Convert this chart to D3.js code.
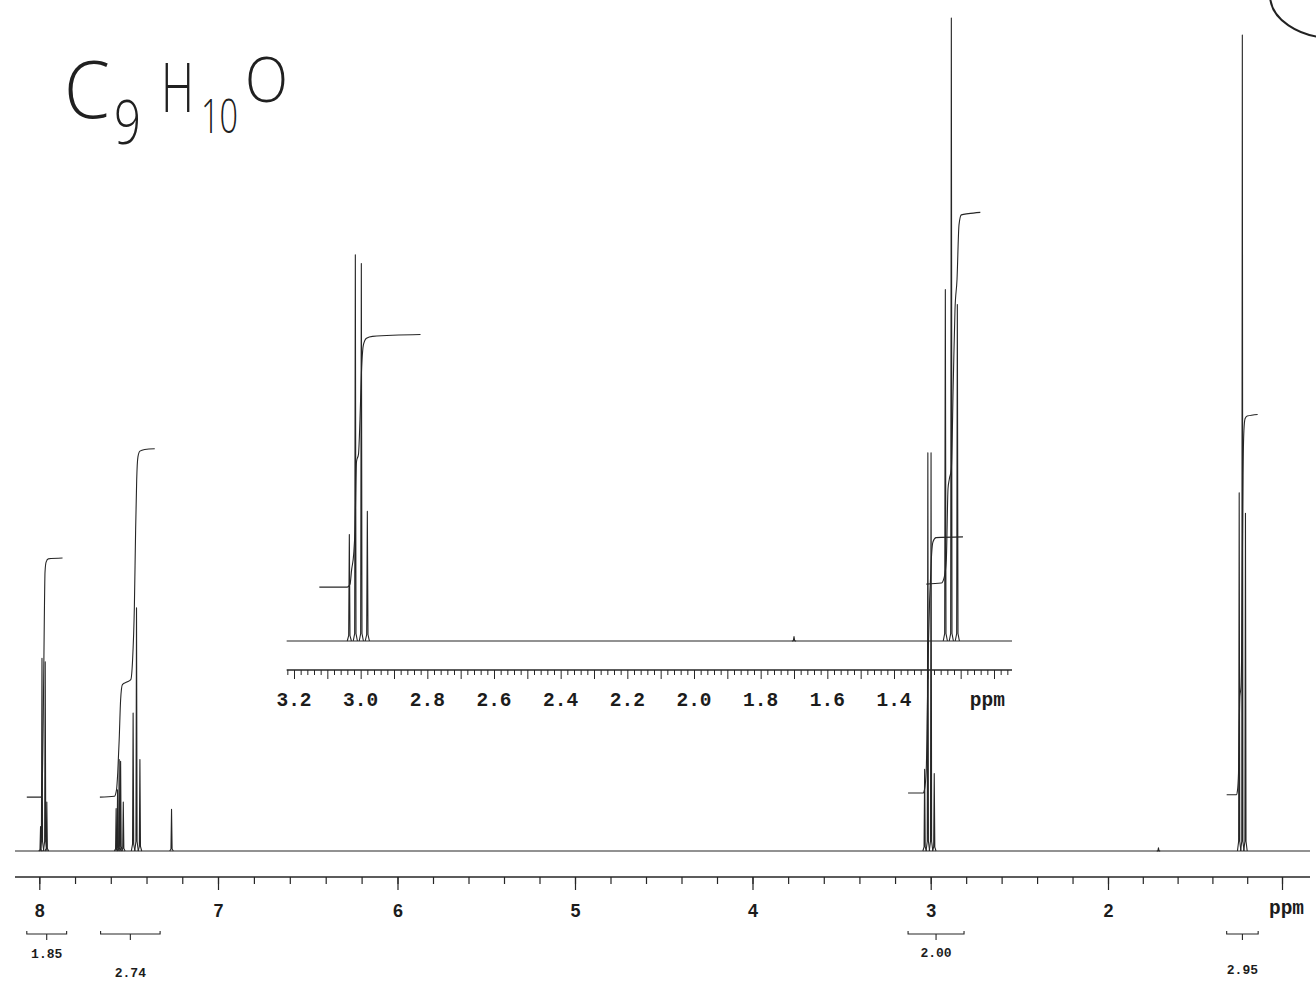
<!DOCTYPE html>
<html><head><meta charset="utf-8">
<script src="https://cdn.jsdelivr.net/npm/d3@7"></script>
<style>body{margin:0;background:#fff;} svg{display:block;background:#fff}</style>
</head><body>
<svg id="c" width="1316" height="994"></svg>
<script>
// ---------------- data ----------------
const mainTickPpm    = [8, 7, 6, 5, 4, 3, 2, 1];
const mainTickLabels = ["8", "7", "6", "5", "4", "3", "2", "ppm"];
const mainAxisExtent = [8.136, 0.839];

const mainLinePpm = [7.993, 7.985, 7.967, 7.958,
                     7.570, 7.562, 7.553, 7.545, 7.530,
                     7.475, 7.456, 7.437,
                     7.260,
                     3.034, 3.016, 2.998, 2.980,
                     1.710,
                     1.246, 1.228, 1.210];
const mainLineInt = [3.0, 23.6, 23.2, 6.0,
                     5.2, 7.5, 11.2, 11.0, 6.0,
                     16.9, 29.8, 11.2,
                     5.1,
                     10.0, 48.8, 48.8, 9.5,
                     0.4,
                     43.9, 100, 41.4];

const insetTickLabels = ["3.2", "3.0", "2.8", "2.6", "2.4", "2.2", "2.0", "1.8", "1.6", "1.4"];
const insetAxisExtent = [3.222, 1.046];
const insetLinePpm = [3.034, 3.016, 2.998, 2.980, 1.700, 1.246, 1.228, 1.210];
const insetLineInt = [17.1, 62.0, 60.6, 20.8, 0.7, 56.4, 100, 54.0];

// integral traces [ppm, level]
const mainIntegralAr1 = [[8.07,6.6],[7.99,6.6],[7.985,7.2],[7.978,16],[7.972,28.3],[7.968,34.2],[7.962,35.4],[7.95,35.8],[7.87,35.9]];
const mainIntegralAr2 = [[7.661,6.6],[7.58,6.7],[7.568,7.5],[7.561,9.6],[7.553,13.6],[7.545,18.5],[7.535,20.4],[7.51,20.7],[7.488,21.0],[7.478,23.4],[7.468,29.9],[7.461,39.3],[7.455,45.5],[7.448,48.3],[7.437,49.0],[7.41,49.2],[7.354,49.3]];
const mainIntegralCH2 = [[3.127,7.1],[3.043,7.1],[3.035,7.5],[3.025,9.9],[3.018,18.5],[3.012,25.9],[3.006,30.8],[3.0,33.8],[2.995,36.3],[2.987,37.9],[2.97,38.4],[2.818,38.5]];
const mainIntegralCH3 = [[1.318,6.9],[1.262,6.9],[1.256,7.4],[1.25,9.5],[1.246,15],[1.242,19.0],[1.236,20.0],[1.232,24],[1.228,35],[1.224,46],[1.219,51.5],[1.212,53.0],[1.2,53.3],[1.14,53.5]];
const insetIntegralCH2 = [[3.124,8.65],[3.04,8.65],[3.032,9.1],[3.027,11.5],[3.021,13.9],[3.017,17.9],[3.0125,28.8],[3.0065,30.0],[3.002,35.6],[2.9975,43.3],[2.9915,47.6],[2.9825,48.6],[2.9645,48.9],[2.8205,49.2]];
const insetIntegralCH3 = [[1.303,9.13],[1.258,9.3],[1.249,10.3],[1.243,13.1],[1.238,24.4],[1.234,26.0],[1.228,27.6],[1.222,42.0],[1.217,53.2],[1.211,58.0],[1.205,66.8],[1.198,68.4],[1.177,68.6],[1.141,68.8]];

const integralRanges = [[8.07, 7.847], [7.657, 7.324], [3.127, 2.812], [1.318, 1.137]];
const integralValues = ["1.85", "2.74", "2.00", "2.95"];

const formulaParts = ["C", "9", "H", "10", "O"];

// ---------------- drawing ----------------
const ink = "#262626";
const svg = d3.select("#c");

const x  = d3.scaleLinear().domain(mainTickPpm).range([39.3, 218, 397.5, 575, 752.5, 930.7, 1108, 1282]);
const y  = d3.scaleLinear().domain([0, 100]).range([851, 35]);
const xi = d3.scaleLinear().domain([3.2, 1.4]).range([294, 894]);
const yi = d3.scaleLinear().domain([0, 100]).range([641, 18]);

function spike(p, h, w) {
  const s = Math.min(h * 0.05, 1.2);
  return [[p + w * 2.5, 0], [p + w * 0.8, s], [p, h], [p - w * 0.8, s], [p - w * 2.5, 0]];
}

function drawSpectrum(g, xs, ys, ppm, ints, extent, w) {
  const ln = d3.line().x(d => xs(d[0])).y(d => ys(d[1]));
  g.append("path").attr("d", ln([[extent[0], 0], [extent[1], 0]]))
    .attr("fill", "none").attr("stroke", ink).attr("stroke-width", 1.2);
  g.selectAll("path.pk").data(ppm.map((p, i) => spike(p, ints[i], w)))
    .join("path").attr("class", "pk").attr("d", ln)
    .attr("fill", "none").attr("stroke", ink).attr("stroke-width", 1.1)
    .attr("stroke-linejoin", "round");
}

function drawIntegrals(g, xs, ys, list) {
  const ln = d3.line().x(d => xs(d[0])).y(d => ys(d[1])).curve(d3.curveMonotoneX);
  g.selectAll("path.int").data(list).join("path").attr("class", "int")
    .attr("d", ln).attr("fill", "none").attr("stroke", ink).attr("stroke-width", 1.1);
}

// ---- inset ----
const gi = svg.append("g");
drawSpectrum(gi, xi, yi, insetLinePpm, insetLineInt, insetAxisExtent, 0.0025);
drawIntegrals(gi, xi, yi, [insetIntegralCH2, insetIntegralCH3]);

const insetAxisY = 670;
gi.append("line").attr("x1", xi(insetAxisExtent[0])).attr("x2", xi(insetAxisExtent[1]))
  .attr("y1", insetAxisY).attr("y2", insetAxisY).attr("stroke", ink).attr("stroke-width", 1.3);
const insetMinor = d3.range(0, 109).map(i => +(3.22 - i * 0.02).toFixed(2))
  .filter(v => v <= insetAxisExtent[0] && v >= insetAxisExtent[1]);
const axI = svg.append("g").attr("transform", `translate(0,${insetAxisY})`)
  .call(d3.axisBottom(xi).tickValues(insetMinor).tickSize(5).tickFormat(""));
axI.select(".domain").remove();
axI.selectAll(".tick line").attr("stroke", ink).attr("stroke-width", 1)
  .filter(d => Math.abs(Math.round(d * 10) - d * 10) < 1e-6).attr("y2", 9);
gi.selectAll("text.il").data(insetTickLabels).join("text").attr("class", "il")
  .attr("x", d => xi(+d)).attr("y", 706).attr("text-anchor", "middle")
  .attr("font-family", "'Liberation Mono', 'Courier New', monospace").attr("font-weight", "bold")
  .attr("font-size", 19.5).attr("fill", "#1c1c1c").text(d => d);
gi.append("text").attr("x", xi(1.12)).attr("y", 706).attr("text-anchor", "middle")
  .attr("font-family", "'Liberation Mono', 'Courier New', monospace").attr("font-weight", "bold")
  .attr("font-size", 19.5).attr("fill", "#1c1c1c").text("ppm");

// ---- main ----
const gm = svg.append("g");
drawSpectrum(gm, x, y, mainLinePpm, mainLineInt, mainAxisExtent, 0.004);
drawIntegrals(gm, x, y, [mainIntegralAr1, mainIntegralAr2, mainIntegralCH2, mainIntegralCH3]);

const mainAxisY = 877;
gm.append("line").attr("x1", x(mainAxisExtent[0])).attr("x2", x(mainAxisExtent[1]))
  .attr("y1", mainAxisY).attr("y2", mainAxisY).attr("stroke", ink).attr("stroke-width", 1.4);
const mainMinor = d3.range(0, 36).map(i => +(8 - i * 0.2).toFixed(1));
const axM1 = svg.append("g").attr("transform", `translate(0,${mainAxisY})`)
  .call(d3.axisBottom(x).tickValues(mainMinor).tickSize(7).tickFormat(""));
axM1.select(".domain").remove();
axM1.selectAll(".tick line").attr("stroke", ink).attr("stroke-width", 1.2);
const axM2 = svg.append("g").attr("transform", `translate(0,${mainAxisY})`)
  .call(d3.axisBottom(x).tickValues(mainTickPpm).tickSize(13).tickPadding(14)
    .tickFormat((d, i) => mainTickLabels[i]));
axM2.select(".domain").remove();
axM2.selectAll(".tick line").attr("stroke", ink).attr("stroke-width", 1.2);
axM2.selectAll(".tick text").attr("font-family", "'Liberation Sans', Arial, sans-serif")
  .attr("font-weight", "bold").attr("font-size", 18).attr("fill", "#1c1c1c");
axM2.selectAll(".tick text").filter((d, i) => mainTickLabels[i] === "ppm")
  .attr("font-family", "'Liberation Mono', 'Courier New', monospace").attr("font-size", 19.5)
  .attr("dx", 4).attr("dy", "0.5em");

// ---- integration brackets ----
const brY = 934;
const labelRowY = [958.3, 977.3, 956.8, 973.8];
const gb = svg.append("g");
integralRanges.forEach((r, i) => {
  const x1 = x(r[0]), x2 = x(r[1]), xc = (x1 + x2) / 2;
  gb.append("path").attr("d", `M${x1},${brY - 3}V${brY}H${x2}V${brY - 3}M${xc},${brY}V${brY + 6}`)
    .attr("fill", "none").attr("stroke", ink).attr("stroke-width", 1.1);
  gb.append("text").attr("x", xc).attr("y", labelRowY[i]).attr("text-anchor", "middle")
    .attr("font-family", "'Liberation Mono', 'Courier New', monospace").attr("font-weight", "bold")
    .attr("font-size", 13).attr("fill", "#1c1c1c").text(integralValues[i]);
});

// ---- handwritten formula (each glyph fitted to its box) ----
const gf = svg.append("g").attr("fill", "#202020").attr("font-family", "'Open Sans', Lato, sans-serif")
  .attr("font-weight", 300);
const formulaBoxes = [
  {left: 64,  base: 118, w: 46, h: 57},
  {left: 114, base: 144, w: 27, h: 44},
  {left: 161, base: 112, w: 33, h: 49},
  {left: 201, base: 133, w: 37, h: 34},
  {left: 245, base: 102, w: 43, h: 45}
];
formulaParts.forEach((t, i) => {
  const b = formulaBoxes[i];
  const txt = gf.append("text").attr("font-size", 50).text(t);
  const natW = txt.node().getComputedTextLength();
  const sx = b.w / natW, sy = b.h / (50 * 0.714);
  txt.attr("transform", `translate(${b.left},${b.base}) scale(${sx},${sy})`);
});

// circled page mark (top right)
svg.append("ellipse").attr("cx", 1333).attr("cy", -5).attr("rx", 63).attr("ry", 43)
  .attr("fill", "none").attr("stroke", "#222").attr("stroke-width", 2);
</script>
</body></html>
